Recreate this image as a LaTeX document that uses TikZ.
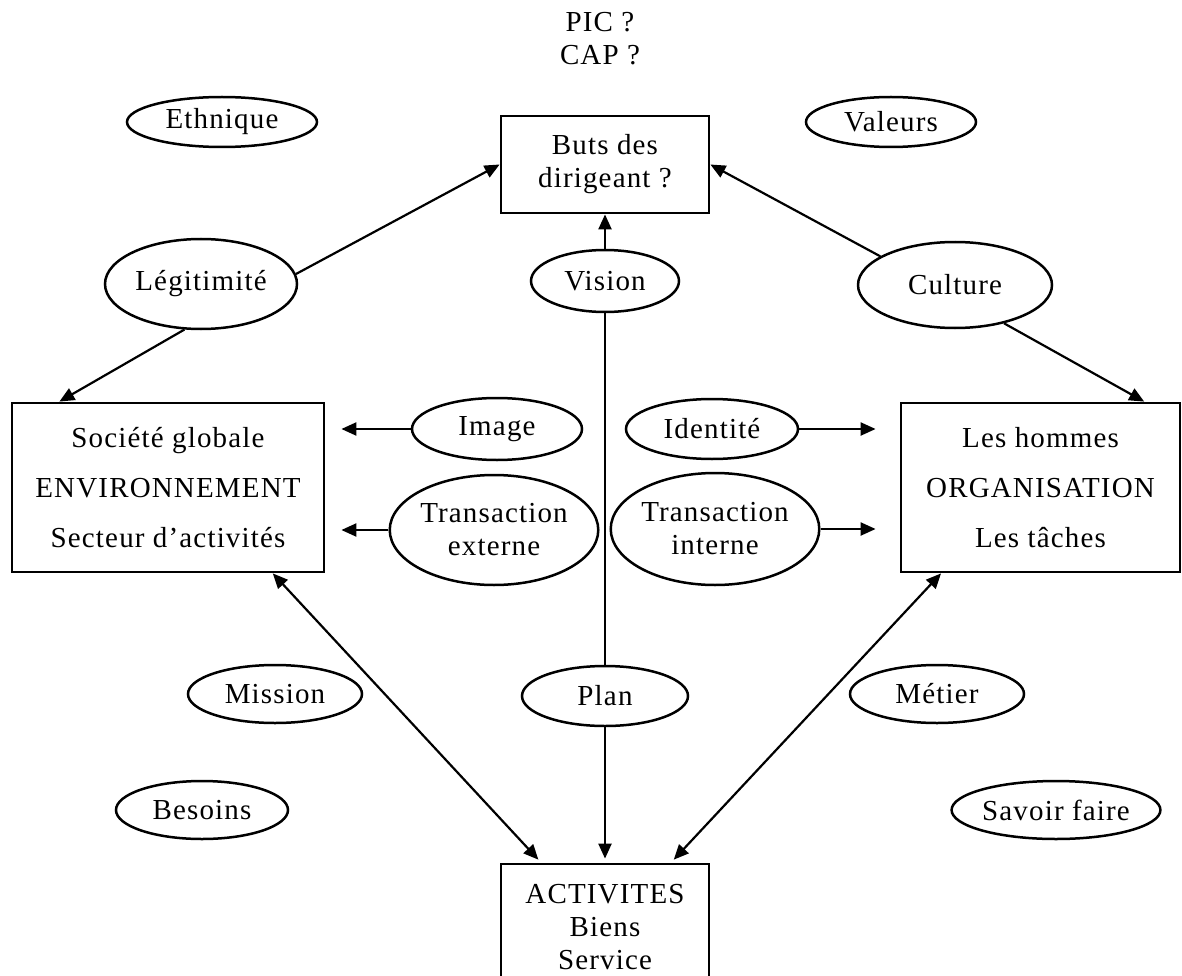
\documentclass[tikz,border=0pt]{standalone}
\usepackage{fontspec}
\setmainfont{Liberation Serif}[LetterSpace=4.0]
\usetikzlibrary{arrows.meta,calc,shapes.geometric}

\tikzset{
  lbl/.style={font=\fontsize{29}{33}\selectfont, align=center, inner sep=0pt},
  oval/.style={lbl, ellipse, draw, line width=2.5pt, minimum width=#1},
  boxnode/.style={lbl, rectangle, draw, line width=2.8pt},
  link/.style={line width=2.2pt, -{Triangle[length=15pt,width=13pt]}},
  dlink/.style={line width=2.2pt, {Triangle[length=15pt,width=13pt]}-{Triangle[length=15pt,width=13pt]}},
  plain/.style={line width=2.2pt}
}

\begin{document}
\begin{tikzpicture}[x=1pt, y=-1pt]
\clip (0,0) rectangle (1182,976);
\fill[white] (0,0) rectangle (1182,976);

% heading
\node[lbl] (pic) at (600,39) {PIC ?\\CAP ?};

% central boxes
\node[boxnode, minimum width=208pt, minimum height=97pt] (buts) at (605,164.5)
  {\fontsize{29}{30}\selectfont Buts des\\dirigeant ?};
\node[boxnode, minimum width=312pt, minimum height=169pt] (soc) at (168,487.5)
  {Société globale\\[17pt]ENVIRONNEMENT\\[17pt]Secteur d’activités};
\node[boxnode, minimum width=279pt, minimum height=169pt] (org) at (1040.5,487.5)
  {Les hommes\\[17pt]ORGANISATION\\[17pt]Les tâches};
\node[boxnode, minimum width=208pt, minimum height=126pt] (act) at (605,927)
  {ACTIVITES\\Biens\\Service};

% ovals
\node[oval=190pt, minimum height=50pt] (eth) at (222,122) {Ethnique};
\node[oval=170pt, minimum height=50pt] (val) at (891,122) {Valeurs};
\node[oval=192pt, minimum height=90pt] (leg) at (201,284) {Légitimité};
\node[oval=148pt, minimum height=62pt] (vis) at (605,281) {Vision};
\node[oval=194pt, minimum height=86pt] (cult) at (955,285) {Culture};
\node[oval=170pt, minimum height=62pt] (img) at (497,429) {Image};
\node[oval=182pt, minimum height=110pt] (trext) at (494,530) {Transaction\\externe};
\node[oval=172pt, minimum height=60pt] (ident) at (712,429) {Identité};
\node[oval=186pt, minimum height=112pt] (trint) at (715,529) {Transaction\\interne};
\node[oval=174pt, minimum height=58pt] (mis) at (275,694) {Mission};
\node[oval=166pt, minimum height=60pt] (plan) at (605,696) {Plan};
\node[oval=174pt, minimum height=58pt] (met) at (937,694) {Métier};
\node[oval=172pt, minimum height=58pt] (bes) at (202,810) {Besoins};
\node[oval=172pt, minimum height=58pt] (sav) at (1056,810) {Savoir faire};

% links towards the goals
\draw[link] (leg.6) -- (buts.west);
\draw[link] (cult.159) -- (buts.east);
\draw[link] (vis.north) -- (buts.south);
\draw[link] (leg.250) -- ($(soc.north west)!0.155!(soc.north east)$);
\draw[link] (cult.322) -- ($(org.north west)!0.868!(org.north east)$);

% links to the side boxes
\draw[link, shorten >=16pt] (img.west) -- (img.west -| soc.east);
\draw[link, shorten >=16pt] (trext.west) -- (trext.west -| soc.east);
\draw[link, shorten >=24pt] (ident.east) -- (ident.east -| org.west);
\draw[link, shorten >=24pt] (trint.east) -- (trint.east -| org.west);

% links to the activities
\draw[dlink, shorten >=4pt] ($(soc.south west)!0.833!(soc.south east)$) -- ($(act.north west)!0.197!(act.north east)$);
\draw[dlink, shorten >=4pt] ($(org.south west)!0.147!(org.south east)$) -- ($(act.north west)!0.813!(act.north east)$);
\draw[plain] (vis.south) -- (plan.north);
\draw[link, shorten >=4pt] (plan.south) -- (act.north);
\end{tikzpicture}
\end{document}
